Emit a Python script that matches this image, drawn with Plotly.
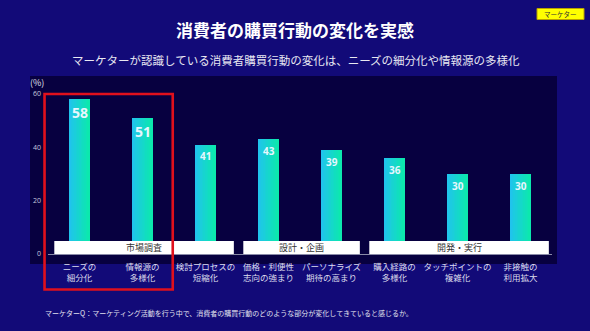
import plotly.graph_objects as go

# ---- data ----
categories = ["ニーズの<br>細分化", "情報源の<br>多様化", "検討プロセスの<br>短縮化", "価格・利便性<br>志向の強まり",
              "パーソナライズ<br>期待の高まり", "購入経路の<br>多様化", "タッチポイントの<br>複雑化", "非接触の<br>利用拡大"]
values = [58, 51, 41, 43, 39, 36, 30, 30]
groups = ["市場調査", "設計・企画", "開発・実行"]
group_start = [0, 3, 5]
group_end = [2, 4, 7]
highlight = [0, 1]
y_ticks = [0, 20, 40, 60]

title = "消費者の購買行動の変化を実感"
subtitle = "マーケターが認識している消費者購買行動の変化は、ニーズの細分化や情報源の多様化"
footnote = "マーケターQ：マーケティング活動を行う中で、消費者の購買行動のどのような部分が変化してきていると感じるか。"
badge = "マーケター"

# ---- layout geometry (pixels) ----
W, H = 590, 331
L, R, T, B = 48, 552, 94, 254
PW, PH = R - L, B - T
n = len(categories)


def px(x):
    return (x - L) / PW


def py(y):
    return (B - y) / PH


def cat_paper(c):
    return (c + 0.5) / n


FONT = "Noto Sans CJK JP"
OUTER = "#120a78"
PANEL = "#070040"

fig = go.Figure()

# gradient bars via thin slices
c0 = (32, 196, 236)
c1 = (12, 232, 174)
bw = 0.318
ns = 12
step = bw / ns
for i in range(ns):
    t = i / (ns - 1)
    col = "rgb({},{},{})".format(*[round(a + (b - a) * t) for a, b in zip(c0, c1)])
    fig.add_trace(go.Bar(
        x=list(range(n)), y=values, width=step * 1.15, offset=-bw / 2 + i * step,
        marker=dict(color=col, line=dict(width=0)), hoverinfo="skip", showlegend=False,
    ))

shapes = []
# dark panel
shapes.append(dict(type="rect", xref="paper", yref="paper", layer="below",
                   x0=px(30), x1=px(557), y0=py(264), y1=py(76),
                   fillcolor=PANEL, line=dict(width=0)))
# group boxes
annotations = []
for g, s, e in zip(groups, group_start, group_end):
    x0 = s - 0.40
    x1 = e + 0.45
    shapes.append(dict(type="rect", xref="x", yref="y", layer="above",
                       x0=x0, x1=x1, y0=0, y1=4.9,
                       fillcolor="white", line=dict(width=0)))
    annotations.append(dict(x=(x0 + x1) / 2, y=2.45, xref="x", yref="y", text=g, showarrow=False,
                            xanchor="center", yanchor="middle",
                            font=dict(family=FONT, size=9, color="#333333")))
# red highlight box
shapes.append(dict(type="rect", xref="paper", yref="paper", layer="above",
                   x0=cat_paper(min(highlight) - 0.555), x1=cat_paper(max(highlight) + 0.48),
                   y0=py(289.5), y1=py(94),
                   line=dict(color="#e0101c", width=2.6), fillcolor="rgba(0,0,0,0)"))
# badge
shapes.append(dict(type="rect", xref="paper", yref="paper", layer="above",
                   x0=px(537), x1=px(584), y0=py(19.5), y1=py(8.5),
                   fillcolor="#ffff00", line=dict(color="#b8a000", width=1)))

# value labels
for i, v in enumerate(values):
    big = i in highlight
    annotations.append(dict(x=i, y=v, xref="x", yref="y", text="<b>%d</b>" % v, showarrow=False,
                            xanchor="center", yanchor="middle", yshift=-13.5 if big else -11.5,
                            font=dict(family="Open Sans", size=14 if big else 10, color="#e6f6ff")))


def note(x, y, text, size, color, xanchor="center", family=FONT):
    return dict(x=px(x), y=py(y), xref="paper", yref="paper", text=text, showarrow=False,
                xanchor=xanchor, yanchor="middle", font=dict(family=family, size=size, color=color))


annotations += [
    note(294.5, 29.5, "<b>%s</b>" % title, 17, "white"),
    note(296, 60, subtitle, 11.5, "#e8e8f2"),
    note(43, 313, footnote, 7, "#e0e0ee", xanchor="left"),
    note(37, 82, "(%)", 9, "#e0e0ee"),
    note(560.5, 14, badge, 6.5, "#333333"),
]

fig.update_layout(
    width=W, height=H,
    margin=dict(l=L, r=W - R, t=T, b=H - B, pad=0),
    paper_bgcolor=OUTER, plot_bgcolor="rgba(0,0,0,0)",
    barmode="overlay", bargap=0,
    shapes=shapes, annotations=annotations,
    showlegend=False,
    xaxis=dict(range=[-0.5, n - 0.5], tickmode="array", tickvals=list(range(n)), ticktext=categories,
               showgrid=False, zeroline=False, showline=True, linecolor="#8a8aa8", linewidth=1,
               ticks="", tickangle=0, tickfont=dict(family=FONT, size=8.5, color="#dcdcec"),
               ticklabelstandoff=5, automargin=False, fixedrange=True),
    yaxis=dict(range=[0, 60], tickvals=y_ticks, showgrid=False, zeroline=False, showline=False,
               ticks="", tickfont=dict(family="Open Sans", size=7, color="#c8c8dc"), ticklabelstandoff=6,
               automargin=False, fixedrange=True),
)

fig.write_html("out.html")
